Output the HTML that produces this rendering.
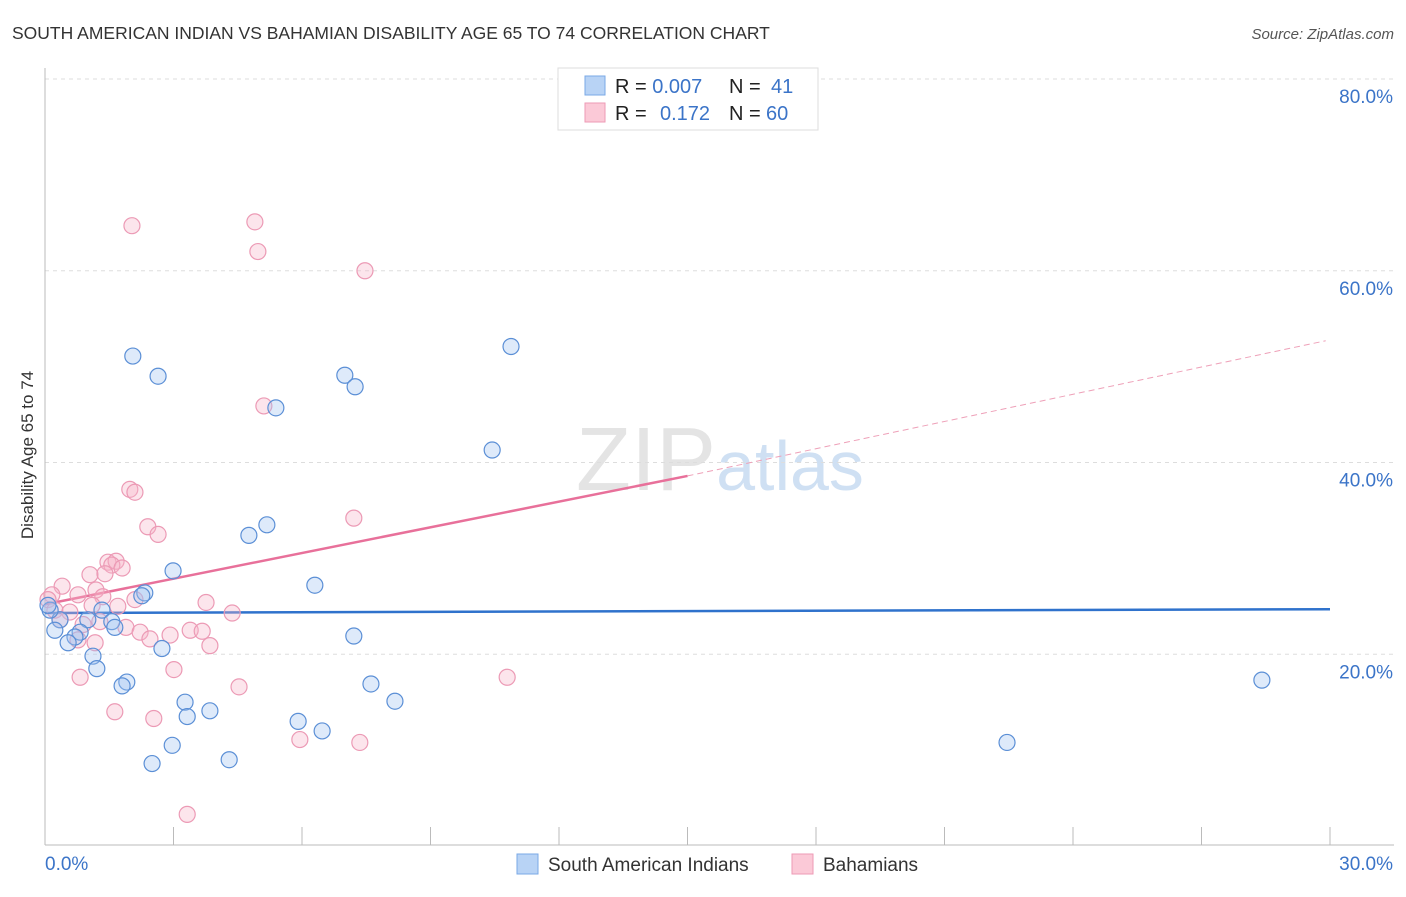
<!DOCTYPE html>
<html><head><meta charset="utf-8"><style>
body{margin:0;background:#fff;font-family:"Liberation Sans",sans-serif;}
svg text{font-family:"Liberation Sans",sans-serif;}
</style></head><body>
<svg id="chart" width="1406" height="892" xmlns="http://www.w3.org/2000/svg">
<text x="12" y="39" font-size="17.5" fill="#333">SOUTH AMERICAN INDIAN VS BAHAMIAN DISABILITY AGE 65 TO 74 CORRELATION CHART</text>
<text x="1394" y="39" font-size="15" fill="#555" text-anchor="end" font-style="italic">Source: ZipAtlas.com</text>
<text x="720" y="490" font-size="90" text-anchor="middle" fill="#e4e4e4" font-family="Liberation Serif">ZIP<tspan fill="#cfe0f3" font-family="Liberation Sans" font-size="70">atlas</tspan></text>
<g id="grid"></g>
<g id="axes"></g>
<g id="trends"></g>
<g id="points"></g>
<text transform="translate(33,455) rotate(-90)" font-size="17" fill="#333" text-anchor="middle">Disability Age 65 to 74</text>
<g>
<rect x="558" y="68" width="260" height="62" fill="#fff" stroke="#ddd"/>
<rect x="585" y="76" width="20" height="19" fill="#b8d3f5" stroke="#7aa8e6"/>
<rect x="585" y="103" width="20" height="19" fill="#fbc9d7" stroke="#ee9ab5"/>
<text x="615" y="93" font-size="20" fill="#222">R = <tspan fill="#3b74c8">0.007</tspan><tspan x="729">N =  </tspan><tspan x="771" fill="#3b74c8">41</tspan></text>
<text x="615" y="120" font-size="20" fill="#222">R = <tspan x="660" fill="#3b74c8">0.172</tspan><tspan x="729">N = </tspan><tspan x="766" fill="#3b74c8">60</tspan></text>
</g>
<g>
<rect x="517" y="854" width="21" height="20" fill="#b8d3f5" stroke="#7aa8e6"/>
<text x="548" y="871" font-size="19" fill="#333">South American Indians</text>
<rect x="792" y="854" width="21" height="20" fill="#fbc9d7" stroke="#ee9ab5"/>
<text x="823" y="871" font-size="19" fill="#333">Bahamians</text>
</g>
</svg>
<script>
const blueX=[2.05,2.64,10.88,7.00,7.24,5.39,10.44,5.18,4.76,2.99,6.30,2.33,2.26,1.33,1.56,1.63,1.00,0.35,0.23,0.12,0.07,0.82,0.70,0.54,1.12,1.21,2.73,7.21,1.91,1.80,3.27,3.32,3.85,7.61,8.17,5.91,6.47,2.97,2.50,4.30,22.46,28.41];
const blueY=[51.1,49.0,52.1,49.1,47.9,45.7,41.3,33.5,32.4,28.7,27.2,26.4,26.1,24.6,23.4,22.8,23.6,23.6,22.5,24.6,25.1,22.3,21.8,21.2,19.8,18.5,20.6,21.9,17.1,16.7,15.0,13.5,14.1,16.9,15.1,13.0,12.0,10.5,8.6,9.0,10.8,17.3];
const pinkX=[2.03,4.90,4.97,7.47,5.11,1.98,2.10,2.40,2.64,7.21,1.47,1.66,1.56,1.80,1.05,1.40,0.40,0.77,1.19,1.35,0.16,0.07,0.23,0.58,1.10,1.70,2.10,3.76,4.37,0.35,0.89,1.28,1.89,2.22,2.45,2.92,3.39,3.67,0.77,1.17,3.85,0.82,3.01,4.53,10.79,1.63,2.54,5.95,7.35,3.32];
const pinkY=[64.7,65.1,62.0,60.0,45.9,37.2,36.9,33.3,32.5,34.2,29.6,29.7,29.3,29.0,28.3,28.4,27.1,26.2,26.7,26.0,26.2,25.7,24.6,24.4,25.1,25.0,25.7,25.4,24.3,23.6,23.1,23.4,22.8,22.3,21.6,22.0,22.5,22.4,21.5,21.2,20.9,17.6,18.4,16.6,17.6,14.0,13.3,11.1,10.8,3.3];
const yTicks=[20,40,60,80];
const yTickLabels=["20.0%","40.0%","60.0%","80.0%"];
const xTicks=[0,3,6,9,12,15,18,21,24,27,30];
const blueTrend=[[0,24.3],[30,24.7]];
const pinkTrendSolid=[[0,25.2],[15,38.6]];
const pinkTrendDash=[[15,38.6],[29.9,52.7]];
const NS="http://www.w3.org/2000/svg";
const xs=v=>45+v*42.833, ys=v=>846-v*9.5875;
function mk(tag,attrs,parent){const e=document.createElementNS(NS,tag);for(const k in attrs)e.setAttribute(k,attrs[k]);parent.appendChild(e);return e;}
const grid=document.getElementById('grid'),axes=document.getElementById('axes'),tr=document.getElementById('trends'),pts=document.getElementById('points');
yTicks.forEach((t,i)=>{
 const l=mk('line',{x1:45,x2:1394,y1:ys(t),y2:ys(t),stroke:'#ddd','stroke-dasharray':'4,4'},grid);
 
 
 const tx=mk('text',{x:1393,y:ys(t)+24,'font-size':19,fill:'#3b74c8','text-anchor':'end'},axes);
 tx.textContent=yTickLabels[i];
 
 
});
const topGrid=mk('line',{x1:45,x2:1394,y1:79,y2:79,stroke:'#ddd','stroke-dasharray':'4,4'},grid);


const xa=mk('line',{x1:45,x2:1394,y1:845,y2:845,stroke:'#bbb'},axes);


const ya=mk('line',{x1:45,x2:45,y1:68,y2:845,stroke:'#bbb'},axes);


xTicks.forEach(t=>{
 const l=mk('line',{x1:xs(t),x2:xs(t),y1:827,y2:845,stroke:'#bbb'},axes);
 
 
});
const xMinLabel=mk('text',{x:45,y:870,'font-size':19,fill:'#3b74c8'},axes);xMinLabel.textContent='0.0%';


const xMaxLabel=mk('text',{x:1393,y:870,'font-size':19,fill:'#3b74c8','text-anchor':'end'},axes);xMaxLabel.textContent='30.0%';


function line(p,attrs,name){const l=mk('line',Object.assign({x1:xs(p[0][0]),y1:ys(p[0][1]),x2:xs(p[1][0]),y2:ys(p[1][1])},attrs),tr);
 
 }
pinkX.forEach((x,i)=>{const c=mk('circle',{cx:xs(x),cy:ys(pinkY[i]),r:8,fill:'rgba(246,180,200,0.35)',stroke:'#ec9ab5','stroke-width':1.2},pts);
 
 });
blueX.forEach((x,i)=>{const c=mk('circle',{cx:xs(x),cy:ys(blueY[i]),r:8,fill:'rgba(160,195,240,0.35)',stroke:'#5b8fd6','stroke-width':1.2},pts);
 
 });
line(blueTrend,{stroke:'#2f72cc','stroke-width':2.5},'blue-trend-line');
line(pinkTrendSolid,{stroke:'#e8709a','stroke-width':2.5},'pink-trend-line');
line(pinkTrendDash,{stroke:'#eea0b8','stroke-width':1,'stroke-dasharray':'6,4'},'pink-trend-extension');
</script>
</body></html>
